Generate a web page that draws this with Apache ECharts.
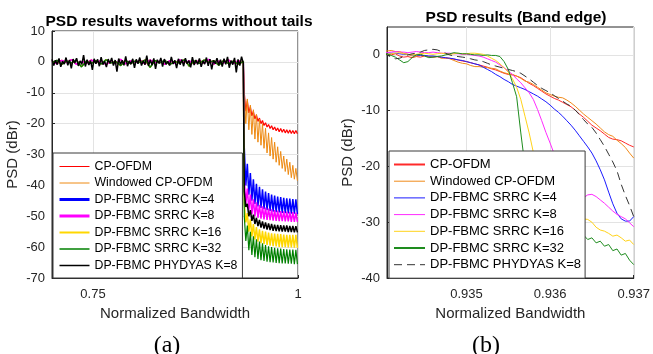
<!DOCTYPE html>
<html>
<head>
<meta charset="utf-8">
<script src="https://cdn.jsdelivr.net/npm/echarts@6/dist/echarts.min.js"></script>
<style>
  html, body { margin: 0; padding: 0; background: #fff; }
  #chart { width: 653px; height: 354px; }
</style>
</head>
<body>
<div id="chart"></div>
<script>
// ---- (a) full band: passband noise, then alternating upper/lower tail envelopes
const PASS_X0 = 0.70, PASS_X1 = 0.9333;
const TAIL_X0 = 0.9345, TAIL_DX = 0.00185;

const blackPass = [0.8,-1.2,0.5,-0.9,1.1,-1.6,0.2,-0.7,1.4,-1.1,0.6,-2.1,0.9,-0.4,1.2,-1.3,0.3,-0.8,2.2,-1.5,
  0.7,-1.0,0.4,-2.6,1.0,-0.6,0.8,-1.4,1.5,-0.9,0.2,-1.7,0.9,-0.5,1.3,-1.2,0.6,-3.2,1.1,-0.8,
  0.5,-1.1,1.8,-1.4,0.3,-0.7,1.0,-1.9,0.8,-0.6,1.4,-1.2,0.4,-0.9,2.0,-1.3,0.6,-1.0,1.1,-2.3,
  0.7,-0.5,1.3,-1.5,0.9,-0.8,0.2,-1.2,1.6,-0.7,0.5,-2.0,1.0,-0.9,0.8,-1.4,1.2,-0.6,0.4,-1.8,
  1.5,-1.0,0.6,-0.8,1.1,-1.6,0.3,-0.7,1.4,-1.3,0.9,-2.4,0.5,-0.6,1.2,-1.1,0.7,-1.5,1.0,-0.8,
  1.6,-1.9,0.4,-0.9,1.3,-3.4,0.8,-1.2,1.7,-0.5];
const passA = [0.3,-0.6,0.5,-0.2,0.7,-0.8,0.1,-0.5,0.6,-0.3,0.4,-0.9,0.2,-0.4,0.8,-0.6,0.3,-0.2,0.5,-0.7,
  0.6,-0.3,0.2,-0.8,0.4,-0.5,0.7,-0.2,0.3,-0.6,0.5,-0.4,0.8,-0.7,0.2,-0.3,0.6,-0.5,0.4,-0.2];
const passB = [-0.2,0.5,-0.8,0.3,-0.4,0.6,-1.6,0.2,-0.5,0.4,-0.7,0.7,-0.3,0.1,-1.2,0.5,-0.6,0.3,-0.2,0.6,
  -1.8,0.4,-0.3,0.5,-0.9,0.2,-0.4,0.7,-1.4,0.3,-0.5,0.6,-0.2,0.4,-1.1,0.5,-0.6,0.3,-0.8,0.2];

const redHi     = [-10,-12.5,-14.5,-16,-17.2,-18.2,-19,-19.7,-20.3,-20.7,-21.1,-21.4,-21.6,-21.8,-22,-22.1,-22.2,-22.2];
const redLo     = [-16,-16.5,-17.5,-18.5,-19.3,-20,-20.6,-21.1,-21.6,-22,-22.3,-22.6,-22.8,-23,-23.1,-23.2,-23.3,-23.3];
const orangeHi  = [-10,-12,-14,-15.5,-17,-18.5,-20,-21.5,-23,-24.5,-26,-27.5,-29,-30.5,-31.5,-32.5,-33.5,-34.5];
const orangeLo  = [-20,-22,-23.5,-25,-26,-27,-28,-29.5,-30.5,-31.5,-32.5,-33.5,-34.5,-35.5,-36.5,-37.5,-38,-38.5];
const blueHi    = [-28,-33,-36,-38,-39.5,-40.5,-41.3,-42,-42.5,-43,-43.3,-43.6,-43.8,-44,-44.2,-44.3,-44.4,-44.5];
const blueLo    = [-40,-43,-45,-46,-46.8,-47.3,-47.7,-48,-48.3,-48.5,-48.7,-48.8,-48.9,-49,-49.1,-49.2,-49.2,-49.3];
const magentaHi = [-38,-41,-43,-44.5,-45.5,-46.3,-46.8,-47.2,-47.5,-47.8,-48,-48.2,-48.3,-48.4,-48.5,-48.6,-48.7,-48.8];
const magentaLo = [-46,-48,-49.3,-50,-50.5,-50.8,-51,-51.2,-51.3,-51.4,-51.5,-51.6,-51.6,-51.7,-51.7,-51.8,-51.8,-51.8];
const yellowHi  = [-46,-49,-51,-52.5,-53.5,-54.2,-54.7,-55,-55.3,-55.5,-55.6,-55.7,-55.8,-55.9,-56,-56,-56,-56];
const yellowLo  = [-52,-55,-56.5,-57.5,-58.2,-58.7,-59,-59.3,-59.5,-59.7,-59.8,-59.9,-60,-60,-60.1,-60.1,-60.2,-60.2];
const greenHi   = [-50,-53,-55,-56.5,-57.5,-58.2,-58.8,-59.3,-59.7,-60,-60.2,-60.4,-60.5,-60.6,-60.7,-60.8,-60.8,-60.9];
const greenLo   = [-58,-61,-62.5,-63.3,-63.8,-64.2,-64.5,-64.7,-64.9,-65,-65.1,-65.2,-65.3,-65.3,-65.4,-65.4,-65.5,-65.5];
const blackHi   = [-42,-46,-48,-49.5,-50.5,-51.2,-51.7,-52,-52.3,-52.5,-52.7,-52.8,-52.9,-53,-53,-53.1,-53.1,-53.2];
const blackLo   = [-47,-50,-51.5,-52.5,-53.2,-53.7,-54,-54.3,-54.5,-54.7,-54.8,-54.9,-55,-55,-55.1,-55.1,-55.2,-55.2];

// ---- (b) band edge zoom, sampled every BAND_DX from BAND_X0
const BAND_X0 = 0.934, BAND_DX = 0.00005;
const bRed = [0.2,0.1,0,0.2,-0.2,-0.4,-0.3,-0.5,-0.3,-0.4,-0.2,-0.3,-0.4,-0.3,-0.5,-0.6,-0.6,-0.8,-0.9,-1.1,
  -1.2,-1.4,-1.6,-1.8,-2,-2.2,-2.5,-2.7,-3,-3.3,-3.5,-3.6,-3.8,-4.1,-4.6,-5.1,-5.5,-6,-6.5,-7,
  -7.4,-7.8,-8.1,-8.5,-8.9,-9.3,-9.9,-10.6,-11.2,-11.9,-12.6,-13.1,-13.6,-14.2,-14.8,-15.1,-15.2,-15.4,-15.8,-16.2,-16.5];
const bOrange = [0.6,0.7,0.8,0.6,0.6,0.3,0.1,-0.2,-0.2,0,-0.1,-0.3,-0.4,-0.3,-0.6,-0.5,-0.7,-1,-1.3,-1.5,
  -1.6,-1.9,-2.1,-2.1,-2.2,-2.3,-2.4,-2.5,-2.9,-3.2,-3.4,-3.5,-3.8,-4.2,-4.7,-4.9,-5.3,-5.8,-6.3,-6.8,
  -7.1,-7.4,-7.6,-7.7,-8.1,-8.6,-9.2,-9.9,-10.6,-11.2,-11.8,-12.4,-13.1,-13.8,-14.3,-14.6,-15.3,-15.9,-16.6,-17.6,-18.5];
const bBlue = [0.5,0.4,0.3,0.3,0.2,0.1,0.1,0,0,-0.1,-0.1,-0.2,-0.2,-0.3,-0.4,-0.5,-0.6,-0.7,-0.9,-1,
  -1.2,-1.4,-1.6,-1.8,-2.2,-2.6,-3,-3.5,-3.9,-4.4,-4.8,-5.3,-5.6,-5.9,-6.2,-6.6,-7,-7.4,-7.9,-8.4,
  -9,-9.7,-10.3,-11,-11.8,-12.6,-13.5,-14.5,-15.5,-16.5,-17.6,-19,-20.6,-22.4,-24.6,-26.7,-28.4,-29.4,-29.8,-29.8,-29];
const bMagenta = [0.5,0.4,0.5,0.6,0.5,0.5,0.4,0.5,0.6,0.5,0.4,0.4,0.5,0.4,0.3,0.3,0.3,0.2,0.2,0.1,
  0.1,0,-0.1,-0.2,-0.4,-0.7,-1,-1.3,-1.8,-2.3,-2.9,-3.5,-4.3,-5,-5.9,-6.8,-8,-9.8,-11.8,-13.9,
  -15.8,-17.8,-20,-22,-23.8,-25,-25.8,-26.1,-25.6,-25.1,-25,-25.4,-26,-26.6,-27.3,-28,-28.6,-29,-29.4,-30.1,-30.8];
const bYellow = [0.2,0.1,0.2,0.3,0.4,0.2,0.1,0,0.1,0.2,0.3,0.2,0.1,0.2,0.3,0.2,0.1,0.2,0.3,0.2,
  0.2,0.3,0.3,0.2,0.1,-0.2,-0.6,-1,-1.6,-2.3,-3.1,-4.3,-5.8,-8,-11,-14,-17.5,-20.5,-23,-25,
  -26.4,-27.2,-27.8,-28.2,-28.6,-28.9,-29,-28.9,-29.4,-29.5,-30,-30.9,-31.4,-31.6,-32,-32.5,-32.3,-32.8,-33.4,-33.2,-34];
const bGreen = [0.4,0.2,-0.1,-0.4,-0.9,-1.4,-1.2,-0.5,0,0.1,-0.2,-0.5,-0.4,-0.3,-0.2,0,0.2,0.4,0.3,0.2,
  0.2,0.1,0,0,-0.1,0,-0.1,-0.1,-0.3,-1.2,-2.6,-5,-7.5,-14,-20,-24,-27,-28.8,-29.8,-30.4,
  -31,-31.4,-31.6,-32,-31.7,-32.2,-32,-32.6,-32.3,-33.1,-32.8,-33.7,-33.4,-34.3,-34,-35.1,-34.8,-35.9,-35.6,-36.8,-37.6];
const bBlack = [0.3,0,-0.4,-0.7,-0.6,-0.3,0,0.2,0.3,0.5,0.8,0.9,1,0.9,0.6,0.3,0,-0.2,-0.3,-0.4,
  -0.5,-0.7,-0.9,-1,-1.2,-1.5,-1.8,-2,-2.2,-2.4,-2.6,-2.8,-3,-3.3,-3.8,-4.3,-4.9,-5.5,-6,-6.4,
  -6.8,-7.3,-7.8,-8.3,-8.8,-9.2,-9.9,-10.7,-11.6,-12.4,-13,-14,-15.2,-16.4,-17.8,-19.2,-20.8,-23.2,-25.2,-27,-29];

const names = ["CP-OFDM", "Windowed CP-OFDM", "DP-FBMC SRRC K=4", "DP-FBMC SRRC K=8",
  "DP-FBMC SRRC K=16", "DP-FBMC SRRC K=32", "DP-FBMC PHYDYAS K=8"];

function fullBand(pass, hi, lo) {
  const pts = pass.map((v, i) => [PASS_X0 + i * (PASS_X1 - PASS_X0) / (pass.length - 1), v]);
  hi.forEach((v, k) => {
    pts.push([TAIL_X0 + 2 * k * TAIL_DX, v]);
    pts.push([TAIL_X0 + (2 * k + 1) * TAIL_DX, lo[k]]);
  });
  return pts;
}
const bandEdge = (vals) => vals.map((v, i) => [BAND_X0 + i * BAND_DX, v]);

const leftDefs = [
  { pass: passA, hi: redHi, lo: redLo, color: "#ff0000", w: 1.2 },
  { pass: passA, hi: orangeHi, lo: orangeLo, color: "#ee8a12", w: 1 },
  { pass: passB, hi: blueHi, lo: blueLo, color: "#0000ff", w: 1.5 },
  { pass: passA, hi: magentaHi, lo: magentaLo, color: "#ff00ff", w: 1.5 },
  { pass: passB, hi: yellowHi, lo: yellowLo, color: "#ffd700", w: 1.5 },
  { pass: passB, hi: greenHi, lo: greenLo, color: "#008000", w: 1.2 },
  { pass: blackPass, hi: blackHi, lo: blackLo, color: "#000000", w: 1.5 },
];
const rightDefs = [
  { vals: bRed, color: "#ff2a2a" },
  { vals: bOrange, color: "#f08a1a" },
  { vals: bBlue, color: "#1a1aff" },
  { vals: bMagenta, color: "#ff2aff" },
  { vals: bYellow, color: "#ffd21a" },
  { vals: bGreen, color: "#1e8c1e" },
  { vals: bBlack, color: "#333333", dash: [8, 5] },
];

const series = [];
leftDefs.forEach((d, i) => series.push({
  name: names[i], type: "line", xAxisIndex: 0, yAxisIndex: 0, symbol: "none",
  data: fullBand(d.pass, d.hi, d.lo),
  lineStyle: { color: d.color, width: d.w }, itemStyle: { color: d.color },
}));
rightDefs.forEach((d, i) => series.push({
  name: names[i] + " ", type: "line", xAxisIndex: 1, yAxisIndex: 1, symbol: "none",
  data: bandEdge(d.vals),
  lineStyle: { color: d.color, width: 1, type: d.dash || "solid" }, itemStyle: { color: d.color },
}));

const font = "Liberation Sans, Arial, sans-serif";
const axisText = { color: "#262626", fontSize: 13, fontFamily: font };
const gridLine = { show: true, lineStyle: { color: "#e3e3e3", width: 1 } };
const axisLine = { show: true, onZero: false, lineStyle: { color: "#262626", width: 1 } };
const tick = (vals) => ({ show: true, inside: true, length: 3, customValues: vals, lineStyle: { color: "#262626" } });

const legendWidths = [
  [1, 1, 3, 3, 2, 1.5, 1.5],
  [2, 1, 1, 1, 1, 2, 1],
];

const chart = echarts.init(document.getElementById("chart"), null, { renderer: "canvas" });
chart.setOption({
  animation: false,
  backgroundColor: "#fff",
  title: [
    { text: "PSD results waveforms without tails", left: 174, top: 9, textAlign: "center",
      textStyle: { fontSize: 15.5, fontWeight: "bold", fontFamily: font, color: "#000" } },
    { text: "PSD results (Band edge)", left: 511, top: 5, textAlign: "center",
      textStyle: { fontSize: 15.5, fontWeight: "bold", fontFamily: font, color: "#000" } },
    { text: "(a)", left: 162, top: 329, textAlign: "center",
      textStyle: { fontSize: 24, fontWeight: "normal", fontFamily: "Liberation Serif, Times New Roman, serif", color: "#000" } },
    { text: "(b)", left: 481, top: 329, textAlign: "center",
      textStyle: { fontSize: 24, fontWeight: "normal", fontFamily: "Liberation Serif, Times New Roman, serif", color: "#000" } },
  ],
  grid: [
    { left: 52, top: 31, width: 246, height: 247, show: true, borderColor: "#262626", borderWidth: 1, backgroundColor: "#fff" },
    { left: 387, top: 27, width: 249, height: 251, show: true, borderColor: "#262626", borderWidth: 1, backgroundColor: "#fff" },
  ],
  legend: [0, 1].map((g) => ({
    orient: "vertical",
    left: g === 0 ? 53 : 389,
    top: g === 0 ? 153 : 151,
    padding: g === 0 ? [7, 5, 6, 5] : [7, 4, 7, 4],
    itemWidth: g === 0 ? 30 : 31,
    itemHeight: 13,
    itemGap: g === 0 ? 3.5 : 3.7,
    selectedMode: false,
    backgroundColor: "#fff",
    borderColor: "#3a3a3a",
    borderWidth: 1,
    borderRadius: 0,
    textStyle: { fontSize: g === 0 ? 12.3 : 13, lineHeight: 13, fontFamily: font, color: "#000" },
    formatter: (n) => n.trim(),
    data: names.map((n, i) => ({
      name: g === 0 ? n : n + " ",
      itemStyle: { color: "rgba(0,0,0,0)", borderColor: "rgba(0,0,0,0)", borderWidth: 0 },
      lineStyle: { width: legendWidths[g][i] },
    })),
  })),
  xAxis: [
    { type: "value", gridIndex: 0, min: 0.7, max: 1,
      name: "Normalized Bandwidth", nameLocation: "middle", nameGap: 27,
      nameTextStyle: { fontSize: 15, fontFamily: font, color: "#262626" },
      axisLine, axisTick: tick([0.75, 1]), splitLine: gridLine,
      axisLabel: { ...axisText, margin: 10, customValues: [0.75, 1], formatter: (v) => (v === 1 ? "1" : "0.75") } },
    { type: "value", gridIndex: 1, min: 0.93405, max: 0.937,
      name: "Normalized Bandwidth", nameLocation: "middle", nameGap: 27,
      nameTextStyle: { fontSize: 15, fontFamily: font, color: "#262626" },
      axisLine, axisTick: tick([0.935, 0.936, 0.937]), splitLine: gridLine,
      axisLabel: { ...axisText, margin: 10, customValues: [0.935, 0.936, 0.937], formatter: (v) => v.toFixed(3) } },
  ],
  yAxis: [
    { type: "value", gridIndex: 0, min: -70, max: 10, interval: 10,
      name: "PSD (dBr)", nameLocation: "middle", nameGap: 32,
      nameTextStyle: { fontSize: 15, fontFamily: font, color: "#262626" },
      axisLine, axisTick: { show: true, inside: true, length: 3 }, splitLine: gridLine,
      axisLabel: { ...axisText, margin: 7 } },
    { type: "value", gridIndex: 1, min: -40, max: 5,
      name: "PSD (dBr)", nameLocation: "middle", nameGap: 32,
      nameTextStyle: { fontSize: 15, fontFamily: font, color: "#262626" },
      axisLine, axisTick: tick([-40, -30, -20, -10, 0]), splitLine: gridLine,
      axisLabel: { ...axisText, margin: 7, customValues: [-40, -30, -20, -10, 0] } },
  ],
  series,
});
</script>
</body>
</html>
